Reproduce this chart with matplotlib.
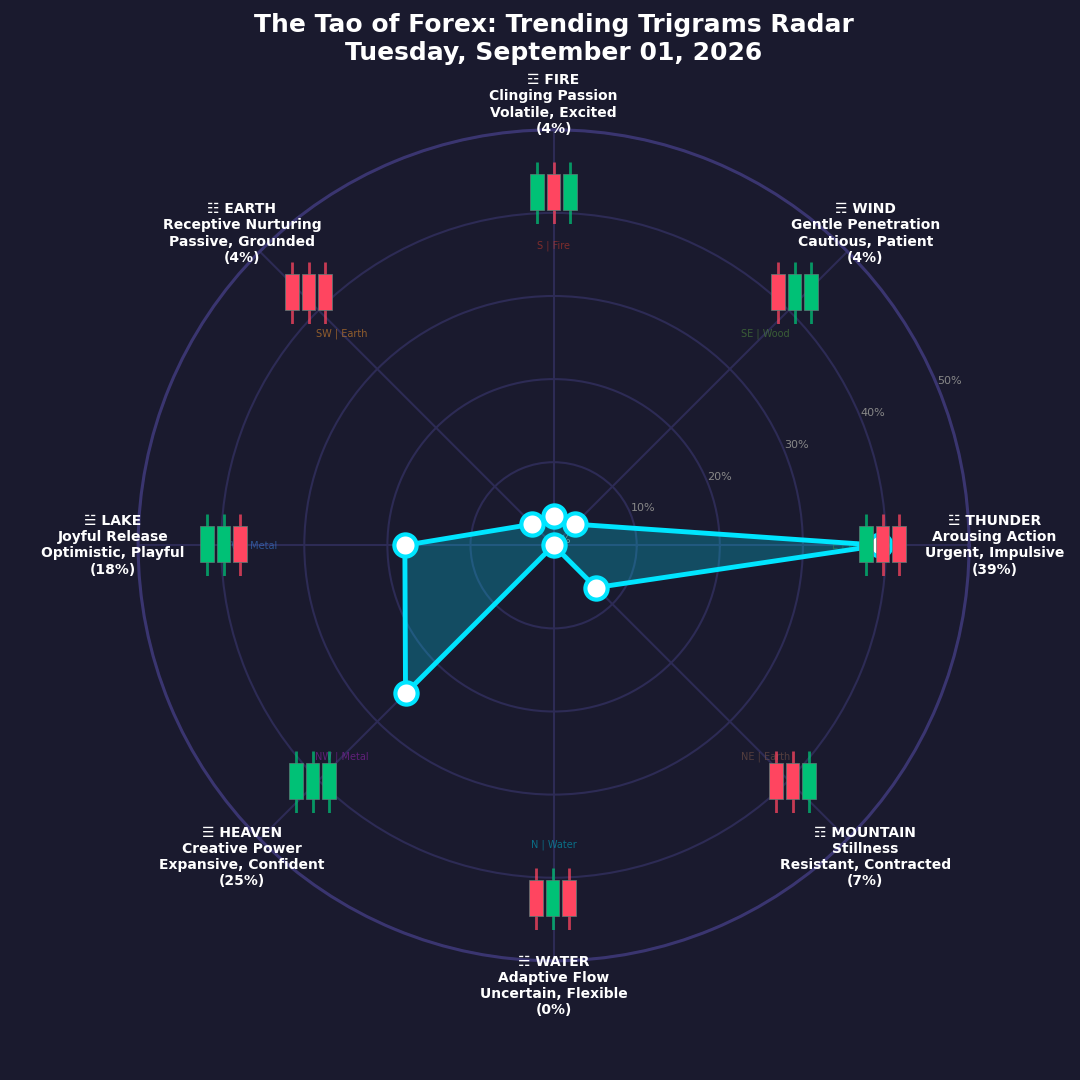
import numpy as np
import matplotlib

matplotlib.use("Agg")
import matplotlib.pyplot as plt

# data, listed counter-clockwise starting from the east spoke
trigrams = ["☳ THUNDER", "☴ WIND", "☲ FIRE", "☷ EARTH", "☱ LAKE", "☰ HEAVEN", "☵ WATER", "☶ MOUNTAIN"]
meanings = ["Arousing Action", "Gentle Penetration", "Clinging Passion", "Receptive Nurturing",
            "Joyful Release", "Creative Power", "Adaptive Flow", "Stillness"]
moods = ["Urgent, Impulsive", "Cautious, Patient", "Volatile, Excited", "Passive, Grounded",
         "Optimistic, Playful", "Expansive, Confident", "Uncertain, Flexible", "Resistant, Contracted"]
percent_labels = ["39%", "4%", "4%", "4%", "18%", "25%", "0%", "7%"]
values = [39.3, 3.6, 3.5, 3.6, 17.9, 25.2, 0.0, 7.2]
directions = ["E | Wood", "SE | Wood", "S | Fire", "SW | Earth", "W | Metal", "NW | Metal", "N | Water", "NE | Earth"]
direction_colors = ["#2e8b57", "#4f8a3c", "#c0392b", "#e08a2b", "#3a7bd5", "#8e24aa", "#00a5c0", "#795548"]
# +1 green candle, -1 red candle
candles = [
    [1, -1, -1],
    [-1, 1, 1],
    [1, -1, 1],
    [-1, -1, -1],
    [1, 1, -1],
    [1, 1, 1],
    [-1, 1, -1],
    [-1, -1, 1],
]
r_ticks = [0, 10, 20, 30, 40, 50]
r_tick_labels = ["0%", "10%", "20%", "30%", "40%", "50%"]

BG = "#1a1a2e"
GREEN = "#00c176"
RED = "#ff4560"
CYAN = "#00e5ff"
GRID = "#2d2b55"
SIZE = 1080
CX, CY, RADIUS = 553.6, 545.3, 415.5
# centre of each candle group relative to the chart centre, in pixels
CANDLE_OFFSETS = [(329, 1), (241, 253), (0, 353), (-245, 253), (-330, 1), (-241, -236), (-1, -353), (239, -236)]


def draw_candles(fig, offset, dirs):
    w, h = 50, 62
    left = (CX + offset[0] - w / 2) / SIZE
    bottom = (SIZE - CY + offset[1] - 32) / SIZE
    ax = fig.add_axes([left, bottom, w / SIZE, h / SIZE], zorder=5)
    ax.patch.set_alpha(0)
    ax.axis("off")
    for i, d in enumerate(dirs):
        color = GREEN if d > 0 else RED
        ax.vlines(i, -14 / 36, 48 / 36, color=color, linewidth=2, alpha=0.75, zorder=1)
        ax.bar(i, 1, bottom=0, width=0.82, color=color, edgecolor="#5a7f78", linewidth=0.5, zorder=2)
    ax.set_xlim(-0.5, 2.5)
    ax.set_ylim(-14 / 36, 48 / 36)


def main():
    plt.rcParams["font.family"] = "DejaVu Sans"
    fig = plt.figure(figsize=(SIZE / 100, SIZE / 100), dpi=100, facecolor=BG)
    ax = fig.add_axes(
        [(CX - RADIUS) / SIZE, (SIZE - CY - RADIUS) / SIZE, 2 * RADIUS / SIZE, 2 * RADIUS / SIZE],
        projection="polar",
    )
    ax.set_facecolor(BG)
    ax.set_axisbelow(True)

    theta = np.deg2rad(np.arange(len(values)) * 45.0)
    closed_theta = np.append(theta, theta[0])
    closed_values = np.append(values, values[0])

    ax.fill(closed_theta, closed_values, color=CYAN, alpha=0.25, linewidth=0, zorder=2)
    ax.plot(closed_theta, closed_values, color=CYAN, linewidth=3.5, zorder=3)
    ax.plot(theta, values, "o", color="white", markeredgecolor=CYAN, markeredgewidth=3,
            markersize=16, zorder=4)

    ax.set_ylim(0, 50)
    ax.set_yticks(r_ticks)
    ax.set_yticklabels(r_tick_labels, color="#888888", fontsize=8)
    ax.set_xticks(theta)
    ax.set_xticklabels([])
    ax.grid(True, color=GRID, linewidth=1.5)
    ax.spines["polar"].set_color("#3a3570")
    ax.spines["polar"].set_linewidth(2.2)

    for t, d, c in zip(theta, directions, direction_colors):
        ax.text(t, 36, d, color=c, alpha=0.6, fontsize=7, ha="center", va="center", zorder=2)

    for t, name, meaning, mood, pct in zip(theta, trigrams, meanings, moods, percent_labels):
        ax.text(t, 53.05, f"{name}\n{meaning}\n{mood}\n({pct})", color="white", fontsize=10,
                fontweight="bold", ha="center", va="center", clip_on=False, zorder=6)

    for offset, dirs in zip(CANDLE_OFFSETS, candles):
        draw_candles(fig, offset, dirs)

    fig.text(554 / SIZE, 1 - 39 / SIZE, "The Tao of Forex: Trending Trigrams Radar\nTuesday, September 01, 2026",
             color="white", fontsize=18, fontweight="bold", ha="center", va="center")

    fig.savefig("out.png", dpi=100, facecolor=BG)


if __name__ == "__main__":
    main()
